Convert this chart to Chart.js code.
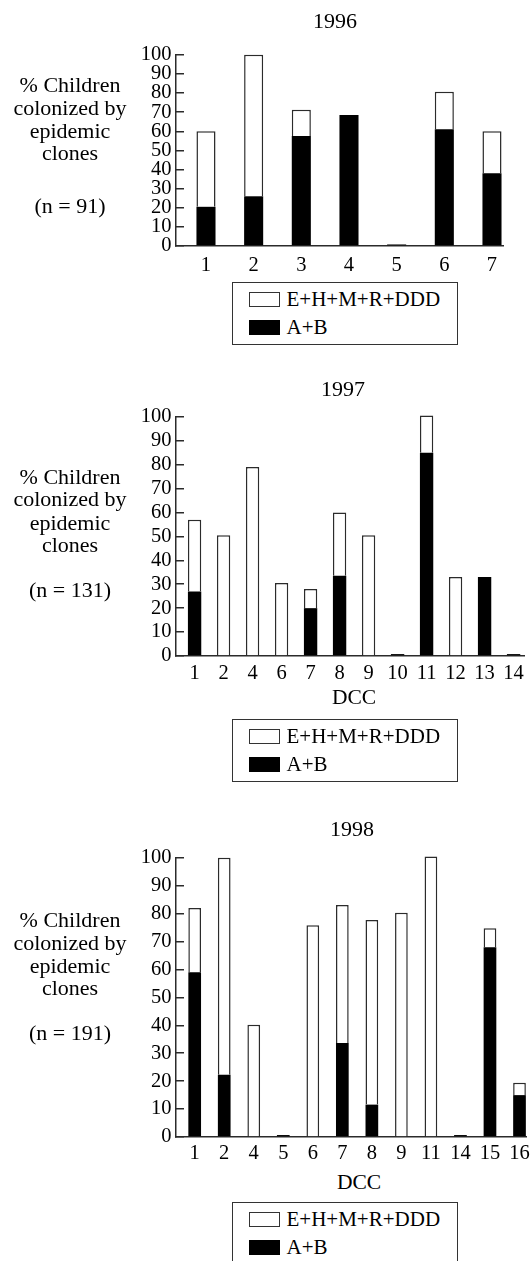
<!DOCTYPE html>
<html><head><meta charset="utf-8">
<script src="https://cdn.jsdelivr.net/npm/chart.js@4.4.1/dist/chart.umd.min.js"></script>
<style>
html,body{margin:0;padding:0;background:#fff;}
body{width:532px;height:1261px;position:relative;overflow:hidden;font-family:'Liberation Serif','DejaVu Serif','Times New Roman',serif;color:#000;}
canvas{position:absolute;left:0;}
.t{position:absolute;white-space:nowrap;text-align:center;font-family:'Liberation Serif','DejaVu Serif',serif;}
.legend{position:absolute;border:1.5px solid #333;box-sizing:border-box;background:#fff;}
.sw{position:absolute;width:31px;height:15.5px;box-sizing:border-box;border:1.5px solid #333;}
.lt{position:absolute;font-size:21px;line-height:21px;white-space:nowrap;font-family:'Liberation Serif','DejaVu Serif',serif;}
</style></head><body>
<canvas id="c1996" width="532" height="246" style="top:30px"></canvas>
<canvas id="c1997" width="532" height="294" style="top:392px"></canvas>
<canvas id="c1998" width="532" height="334" style="top:833px"></canvas>
<script>
// ---- data ----
const years = ['1996', '1997', '1998'];
const nLabels = ['(n = 91)', '(n = 131)', '(n = 191)'];
const yLabelLines = ['% Children', 'colonized by', 'epidemic', 'clones'];
const xTitle = 'DCC';
const seriesNames = ['E+H+M+R+DDD', 'A+B'];
const yTicks = [0, 10, 20, 30, 40, 50, 60, 70, 80, 90, 100];

const cats1996 = ['1', '2', '3', '4', '5', '6', '7'];
const ab1996   = [20.5, 26, 57.5, 68.5, 0.8, 61, 38];
const ehm1996  = [39.5, 74, 13.8, 0, 0, 19.7, 22];

const cats1997 = ['1', '2', '4', '6', '7', '8', '9', '10', '11', '12', '13', '14'];
const ab1997   = [27, 0, 0, 0, 20, 33.5, 0, 0.8, 85, 0, 33, 0.8];
const ehm1997  = [30, 50.5, 79, 30.5, 8, 26.5, 50.5, 0, 15.5, 33, 0, 0];

const cats1998 = ['1', '2', '4', '5', '6', '7', '8', '9', '11', '14', '15', '16'];
const ab1998   = [59, 22.3, 0, 0.7, 0, 33.7, 11.6, 0, 0, 0.7, 68, 15];
const ehm1998  = [23, 77.7, 40.2, 0, 75.8, 49.4, 66.1, 80.3, 100.5, 0, 6.8, 4.4];

// ---- layout (styles / positions) ----
const FONT = "'Liberation Serif','DejaVu Serif','Times New Roman',serif";
const EDGE = '#2b2b2b';

function makeChart(id, cats, ab, ehm, L) {
  const pts = arr => arr.map((v, i) => ({ x: i, y: v === 0 ? null : v }));
  return new Chart(document.getElementById(id), {
    type: 'bar',
    data: {
      datasets: [
        { label: seriesNames[1], data: pts(ab), backgroundColor: '#000', borderColor: '#000', borderWidth: 0, stack: 's' },
        { label: seriesNames[0], data: pts(ehm), backgroundColor: '#fff', borderColor: EDGE, borderWidth: 1.5, stack: 's' }
      ]
    },
    options: {
      responsive: false, animation: false, devicePixelRatio: 1,
      datasets: { bar: { barPercentage: L.barPct, categoryPercentage: 1, clip: false } },
      layout: { padding: { top: L.padTop, right: 532 - L.right, left: 0, bottom: 0 } },
      plugins: { legend: { display: false }, tooltip: { enabled: false }, title: { display: false } },
      scales: {
        x: {
          type: 'linear', min: L.xmin, max: L.xmax, stacked: true, offset: false,
          afterBuildTicks: s => { s.ticks = cats.map((c, i) => ({ value: i })); },
          afterFit: s => { s.height = 30; },
          grid: { display: false },
          border: { display: true, color: EDGE, width: 1.5 },
          ticks: { autoSkip: false, maxRotation: 0, padding: L.xPad, color: '#000', font: { family: FONT, size: 20.5 },
                   callback: v => cats[v] }
        },
        y: {
          type: 'linear', min: 0, max: 100, stacked: true,
          afterBuildTicks: s => { s.ticks = yTicks.map(v => ({ value: v })); },
          afterFit: s => { s.width = 176; },
          grid: { display: true, drawOnChartArea: false, drawTicks: true, tickLength: -8, color: EDGE, lineWidth: 1.5 },
          border: { display: true, color: EDGE, width: 1.5 },
          ticks: { autoSkip: false, padding: 12.5, color: '#000', font: { family: FONT, size: 20.5 } }
        }
      }
    }
  });
}

makeChart('c1996', cats1996, ab1996, ehm1996, { padTop: 12.5, right: 503, xmin: -0.629, xmax: 6.231, barPct: 0.4, xPad: -1 });
makeChart('c1997', cats1997, ab1997, ehm1997, { padTop: 13, right: 524, xmin: -0.641, xmax: 11.359, barPct: 0.46, xPad: -3 });
makeChart('c1998', cats1998, ab1998, ehm1998, { padTop: 13, right: 526, xmin: -0.633, xmax: 11.22, barPct: 0.43, xPad: -4 });

// ---- text ----
function txt(text, cx, cy, size) {
  const d = document.createElement('div');
  d.className = 't';
  d.textContent = text;
  d.style.left = (cx - 150) + 'px';
  d.style.width = '300px';
  d.style.top = (cy - size / 2) + 'px';
  d.style.fontSize = size + 'px';
  d.style.lineHeight = size + 'px';
  document.body.appendChild(d);
}
const titlePos = [[335, 21], [343, 389], [352, 828.7]];
years.forEach((y, i) => txt(y, titlePos[i][0], titlePos[i][1], 22));

const leftLines = [[85, 108, 131, 153, 206], [477, 499, 523, 545, 590], [920, 943, 966, 988, 1033]];
leftLines.forEach((ys, p) => {
  yLabelLines.forEach((s, k) => txt(s, 70, ys[k], 22));
  txt(nLabels[p], 70, ys[4], 22);
});

txt(xTitle, 354, 698, 21.5);
txt(xTitle, 359, 1183, 21.5);

function legend(top) {
  const box = document.createElement('div');
  box.className = 'legend';
  box.style.left = '232px'; box.style.top = top + 'px';
  box.style.width = '225.5px'; box.style.height = '63px';
  document.body.appendChild(box);
  const fills = ['#fff', '#000'];
  [10, 38].forEach((dy, k) => {
    const s = document.createElement('div');
    s.className = 'sw';
    s.style.left = (249 - 232 - 1.5) + 'px';
    s.style.top = (dy - 1.5) + 'px';
    s.style.background = fills[k];
    if (k === 1) s.style.borderColor = '#000';
    box.appendChild(s);
    const t = document.createElement('div');
    t.className = 'lt';
    t.textContent = seriesNames[k];
    t.style.left = (287 - 232 - 1.5) + 'px';
    t.style.top = (dy - 1.5 + 7.75 - 10.5) + 'px';
    box.appendChild(t);
  });
}
[282, 719.3, 1202.3].forEach(legend);
</script>
</body></html>
